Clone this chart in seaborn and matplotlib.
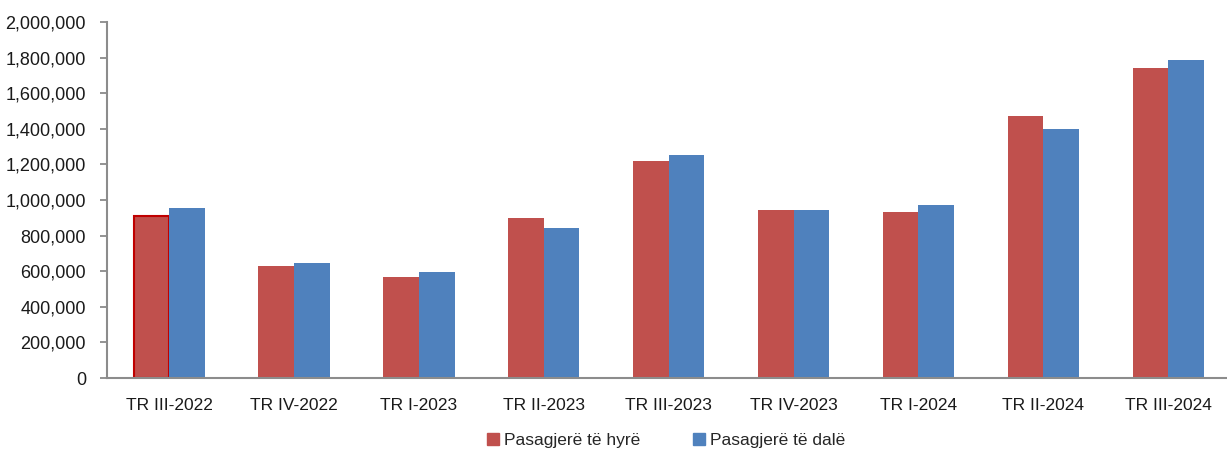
import pandas as pd
import matplotlib
matplotlib.use("Agg")
import matplotlib.pyplot as plt
import seaborn as sns
from matplotlib.ticker import FuncFormatter, FixedLocator

# data
quarters = ["TR III-2022", "TR IV-2022", "TR I-2023", "TR II-2023", "TR III-2023",
            "TR IV-2023", "TR I-2024", "TR II-2024", "TR III-2024"]
arriving = [910000, 629000, 567000, 899000, 1219000, 942000, 933000, 1472000, 1742000]
departing = [955000, 646000, 596000, 843000, 1253000, 946000, 972000, 1399000, 1787000]
series_names = ["Pasagjerë të hyrë", "Pasagjerë të dalë"]

df = pd.DataFrame({
    "quarter": quarters * 2,
    "value": arriving + departing,
    "series": [series_names[0]] * len(quarters) + [series_names[1]] * len(quarters),
})

sns.set_style("white")
plt.rcParams["font.family"] = ["Liberation Sans", "DejaVu Sans"]

fig = plt.figure(figsize=(12.27, 4.49), dpi=100)
ax = fig.add_axes([0.087, 0.158, 0.916, 0.793])

palette = {series_names[0]: "#C0504D", series_names[1]: "#4F81BD"}
sns.barplot(data=df, x="quarter", y="value", hue="series", palette=palette,
            width=0.57, saturation=1, linewidth=0, ax=ax, legend=False)

# first red bar has a darker outline in the original
ax.patches[0].set_edgecolor("#C00000")
ax.patches[0].set_linewidth(1.5)

ax.set_xlim(-0.5, len(quarters) - 0.5)
ax.set_ylim(0, 2000000)
ax.set_yticks(range(0, 2000001, 200000))
ax.yaxis.set_major_formatter(FuncFormatter(lambda v, p: f"{int(v):,}"))
ax.set_xlabel("")
ax.set_ylabel("")

# tick marks between categories, labels centered
ax.xaxis.set_minor_locator(FixedLocator([i - 0.5 for i in range(len(quarters) + 1)]))
ax.tick_params(axis="x", which="major", length=0, pad=14, labelsize=12.5, colors="#1a1a1a")
ax.tick_params(axis="x", which="minor", length=6, width=1.2, color="#808080", direction="out")
ax.tick_params(axis="y", length=5, width=1.2, color="#808080", direction="out", labelsize=13,
               labelcolor="#1a1a1a", left=True, pad=10)

for s in ["top", "right"]:
    ax.spines[s].set_visible(False)
for s in ["left", "bottom"]:
    ax.spines[s].set_color("#8c8c8c")
    ax.spines[s].set_linewidth(1.5)

handles = [plt.Rectangle((0, 0), 1, 1, color=palette[n]) for n in series_names]
fig.legend(handles, series_names, loc="center", bbox_to_anchor=(0.543, 0.018), ncol=2,
           frameon=False, fontsize=12.5, handlelength=0.7, handleheight=0.7,
           handletextpad=0.3, columnspacing=3.0)

fig.savefig("out.png", dpi=100)
